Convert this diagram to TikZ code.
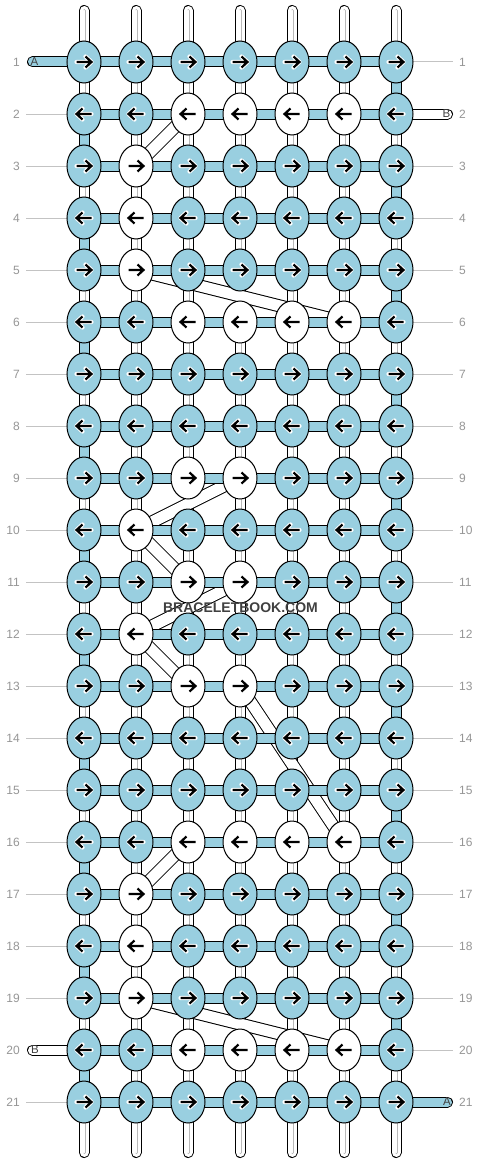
\documentclass[tikz,border=0pt]{standalone}
\usepackage{fontspec}
\setmainfont{Liberation Sans}
\usetikzlibrary{shapes.geometric}

\definecolor{threadblue}{RGB}{153,207,224}
\definecolor{numgray}{RGB}{150,150,150}
\definecolor{guidegray}{RGB}{195,195,195}
\definecolor{seamgray}{RGB}{185,185,185}
\definecolor{markgray}{RGB}{64,64,64}

\tikzset{
  knot/.style={ellipse, draw, line width=1pt, inner sep=0pt, minimum width=34pt, minimum height=42pt},
  wstrand/.style={line width=11pt, black, postaction={draw=white, line width=9pt},
    postaction={draw=seamgray, line width=0.8pt, double=white, double distance=1.4pt}},
  bstrand/.style={line width=11pt, black, postaction={draw=threadblue, line width=9pt}},
  wstub/.style={line width=11pt, black, line cap=round, postaction={draw=white, line width=9pt}},
  diag/.style={line width=13pt, black, postaction={draw=white, line width=11pt}},
  guide/.style={guidegray, line width=1pt},
  rownum/.style={numgray, font=\fontsize{12}{14}\selectfont, inner sep=0pt},
  endtag/.style={markgray, font=\fontsize{11.5}{13}\selectfont, inner sep=0pt},
  rarrow/.pic={
    \draw[white, line width=4.2pt, line cap=round, line join=round] (-7.5,0) -- (6.5,0) (1.5,-5.5) -- (7.5,0) -- (1.5,5.5);
    \draw[black, line width=2.2pt] (-7.5,0) -- (6.5,0) (1.5,-5.5) -- (7.5,0) -- (1.5,5.5);
  },
  larrow/.pic={
    \draw[white, line width=4.2pt, line cap=round, line join=round] (7.5,0) -- (-6.5,0) (-1.5,-5.5) -- (-7.5,0) -- (-1.5,5.5);
    \draw[black, line width=2.2pt] (7.5,0) -- (-6.5,0) (-1.5,-5.5) -- (-7.5,0) -- (-1.5,5.5);
  }
}

\begin{document}
\begin{tikzpicture}[x=1pt,y=-1pt]
    \fill[white] (0,0) rectangle (480,1164);
    \useasboundingbox (0,0) rectangle (480,1164);
    \foreach \r in {1,...,21}
        \foreach \c in {1,...,7}
            \coordinate (p-\r-\c) at (32+52*\c, 10+52*\r);
    \foreach \r in {1,...,21} {
        \node[rownum, anchor=east] (ln-\r) at (20, 10+52*\r) {\r};
        \node[rownum, anchor=west] (rn-\r) at (459, 10+52*\r) {\r};
        \coordinate (lg-\r) at (26, 10+52*\r);
        \coordinate (rg-\r) at (453, 10+52*\r);
        \ifnum\r=1\relax\else\ifnum\r=20\relax\else \draw[guide] (lg-\r) -- (p-\r-1);\fi\fi
        \ifnum\r=2\relax\else\ifnum\r=21\relax\else \draw[guide] (p-\r-7) -- (rg-\r);\fi\fi
    }
    \foreach \c in {1,...,7} {
        \coordinate (top-\c) at (32+52*\c, 10.5);
        \coordinate (bot-\c) at (32+52*\c, 1152.5);
        \draw[wstrand, line cap=round] (top-\c) -- (p-1-\c);
        \draw[wstrand, line cap=round] (p-21-\c) -- (bot-\c);
    }
    \foreach \r in {1,...,20} {
        \pgfmathtruncatemacro{\nr}{\r+1}
        \foreach \c in {1,...,7} {
            \pgfmathtruncatemacro{\turn}{(mod(\r,2)==1 && \c==7) || (mod(\r,2)==0 && \c==1)}
            \ifnum\turn=1\relax
                \draw[bstrand] (p-\r-\c) -- (p-\nr-\c);
            \else
                \draw[wstrand] (p-\r-\c) -- (p-\nr-\c);
            \fi
        }
    }
    \foreach \ra/\ca/\rb/\cb in {2/3/3/2, 5/2/6/6, 9/4/10/2, 10/2/11/3, 11/4/12/2, 12/2/13/3, 13/4/16/6, 16/3/17/2, 19/2/20/6}
        \draw[diag] (p-\ra-\ca) -- (p-\rb-\cb);
    \foreach \r in {1,...,21} {
        \foreach \c in {1,...,6} {
            \pgfmathtruncatemacro{\nc}{\c+1}
            \draw[bstrand] (p-\r-\c) -- (p-\r-\nc);
        }
    }
    \coordinate (a-in) at (32.5, 62);
    \coordinate (b-in) at (447.5, 114);
    \coordinate (b-out) at (32.5, 1050);
    \coordinate (a-out) at (447.5, 1102);
    \draw[bstrand, line cap=round] (a-in) -- (p-1-1);
    \draw[wstub] (p-2-7) -- (b-in);
    \draw[wstub] (b-out) -- (p-20-1);
    \draw[bstrand, line cap=round] (p-21-7) -- (a-out);
    \node[endtag] (tag-a-in) at (34.5, 62) {A};
    \node[endtag] (tag-b-in) at (446.5, 114) {B};
    \node[endtag] (tag-b-out) at (35, 1050) {B};
    \node[endtag] (tag-a-out) at (447, 1102) {A};
    \foreach \r/\pat in {1/{0,0,0,0,0,0,0}, 2/{0,0,1,1,1,1,0}, 3/{0,1,0,0,0,0,0}, 4/{0,1,0,0,0,0,0},
                         5/{0,1,0,0,0,0,0}, 6/{0,0,1,1,1,1,0}, 7/{0,0,0,0,0,0,0}, 8/{0,0,0,0,0,0,0},
                         9/{0,0,1,1,0,0,0}, 10/{0,1,0,0,0,0,0}, 11/{0,0,1,1,0,0,0}, 12/{0,1,0,0,0,0,0},
                         13/{0,0,1,1,0,0,0}, 14/{0,0,0,0,0,0,0}, 15/{0,0,0,0,0,0,0}, 16/{0,0,1,1,1,1,0},
                         17/{0,1,0,0,0,0,0}, 18/{0,1,0,0,0,0,0}, 19/{0,1,0,0,0,0,0}, 20/{0,0,1,1,1,1,0},
                         21/{0,0,0,0,0,0,0}}
        \foreach \w [count=\c] in \pat {
            \ifnum\w=1\relax \def\kfill{white}\else \def\kfill{threadblue}\fi
            \node[knot, fill=\kfill] (k-\r-\c) at (p-\r-\c) {};
            \ifodd\r\relax \pic at (k-\r-\c) {rarrow};\else \pic at (k-\r-\c) {larrow};\fi
        }
    \node[markgray, font=\bfseries\fontsize{14}{16}\selectfont, inner sep=0pt] (mark) at (240.5, 608) {BRACELETBOOK.COM};
\end{tikzpicture}
\end{document}
